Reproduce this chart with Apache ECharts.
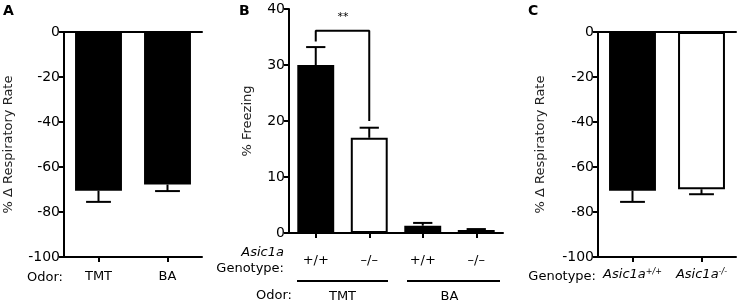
<!DOCTYPE html>
<html>
<head>
<meta charset="utf-8">
<script src="https://cdn.jsdelivr.net/npm/echarts@6/dist/echarts.min.js"></script>
<style>
  html, body { margin: 0; padding: 0; background: #fff; }
  #chart { width: 737px; height: 305px; }
</style>
</head>
<body>
<div id="chart"></div>
<script>
// panel A: respiratory rate by odor
const odorA = ['TMT', 'BA']
const meanA = [-70.5, -67.8]
const semA = [5.0, 2.9]

// panel B: freezing by genotype, grouped by odor
const genotypeB = ['+/+', '–/–', '+/+', '–/–']
const odorGroupsB = ['TMT', 'BA']
const meanB = [30.0, 17.0, 1.3, 0.55]
const semB = [3.2, 1.8, 0.5, 0.15]
const bracketB = [[0, 34.2], [0, 36.1], [1, 36.1], [1, 20.0]]

// panel C: respiratory rate by genotype
const genotypeC = ['+/+', '-/-']
const meanC = [-70.5, -69.9]
const semC = [5.0, 2.2]

const font = 'DejaVu Sans'
const black = '#000'

function fill(i, pattern) {
  return pattern[i] ? {color: black, borderColor: black, borderWidth: 0}
                    : {color: '#fff', borderColor: black, borderWidth: 2}
}

function barSeries(idx, means, pattern, width) {
  return {
    type: 'bar',
    xAxisIndex: idx,
    yAxisIndex: idx,
    barWidth: width,
    silent: true,
    data: means.map((m, i) => ({value: m, itemStyle: fill(i, pattern)}))
  }
}

function errorSeries(idx, means, sems) {
  return {
    type: 'custom',
    xAxisIndex: idx,
    yAxisIndex: idx,
    z: 5,
    silent: true,
    data: means.map((m, i) => [i, m, m < 0 ? m - sems[i] : m + sems[i]]),
    renderItem: function(params, api) {
      const i = api.value(0)
      const p0 = api.coord([i, api.value(1)])
      const p1 = api.coord([i, api.value(2)])
      const half = api.size([1, 0])[0] * 0.36 / 2
      const st = {stroke: black, lineWidth: 2}
      return {
        type: 'group',
        children: [
          {type: 'line', shape: {x1: p0[0], y1: p0[1], x2: p1[0], y2: p1[1]}, style: st},
          {type: 'line', shape: {x1: p1[0] - half, y1: p1[1], x2: p1[0] + half, y2: p1[1]}, style: st}
        ]
      }
    }
  }
}

const axisLine = {show: true, onZero: false, lineStyle: {color: black, width: 2}}
const axisTick = {show: true, length: 5, lineStyle: {color: black, width: 2}}
const tickLabel = {color: black, fontFamily: font, fontSize: 14}

function valueAxis(idx, min, max, interval, name, gap) {
  return {
    type: 'value',
    gridIndex: idx,
    min: min,
    max: max,
    interval: interval,
    name: name,
    nameLocation: 'middle',
    nameRotate: 90,
    nameGap: gap,
    nameTextStyle: {color: '#222', fontFamily: font, fontSize: 13},
    axisLine: axisLine,
    axisTick: axisTick,
    axisLabel: Object.assign({margin: 4}, tickLabel),
    splitLine: {show: false}
  }
}

function catAxis(idx, data, margin, extra) {
  return Object.assign({
    type: 'category',
    gridIndex: idx,
    data: data,
    position: 'bottom',
    axisLine: axisLine,
    axisTick: Object.assign({alignWithLabel: true}, axisTick),
    axisLabel: {color: black, fontFamily: font, fontSize: 13, margin: margin, interval: 0},
    splitLine: {show: false}
  }, extra || {})
}

const chart = echarts.init(document.getElementById('chart'))

const option = {
  animation: false,
  grid: [
    {left: 64, top: 32, width: 138, height: 225},
    {left: 289, top: 9, width: 214, height: 224},
    {left: 598, top: 32, width: 138, height: 225}
  ],
  xAxis: [
    catAxis(0, odorA, 13),
    catAxis(1, genotypeB, 21),
    catAxis(2, genotypeC, 11, {
      axisLabel: {
        interval: 0,
        margin: 11,
        color: black,
        formatter: v => '{i|Asic1a}{s|' + v + '}',
        rich: {
          i: {fontFamily: font, fontSize: 13, fontStyle: 'italic', color: black},
          s: {fontFamily: font, fontSize: 8, fontStyle: 'italic', color: black, verticalAlign: 'top', padding: [0, 0, 6, 0]}
        }
      }
    }),
    // zero lines on top of A and C
    catAxis(0, odorA, 0, {position: 'top', axisTick: {show: false}, axisLabel: {show: false}}),
    catAxis(2, genotypeC, 0, {position: 'top', axisTick: {show: false}, axisLabel: {show: false}}),
    // odor groups under B
    catAxis(1, odorGroupsB, 9, {offset: 48, axisLine: {show: false}, axisTick: {show: false}})
  ],
  yAxis: [
    valueAxis(0, -100, 0, 20, '% Δ Respiratory Rate', 49),
    valueAxis(1, 0, 40, 10, '% Freezing', 35),
    valueAxis(2, -100, 0, 20, '% Δ Respiratory Rate', 51)
  ],
  series: [
    barSeries(0, meanA, [1, 1], '68%'),
    errorSeries(0, meanA, semA),
    barSeries(1, meanB, [1, 0, 1, 0], '69%'),
    errorSeries(1, meanB, semB),
    {
      type: 'line',
      xAxisIndex: 1,
      yAxisIndex: 1,
      data: bracketB,
      showSymbol: false,
      silent: true,
      lineStyle: {color: black, width: 2},
      z: 6
    },
    barSeries(2, meanC, [1, 0], '68%'),
    errorSeries(2, meanC, semC)
  ],
  graphic: [
    {type: 'text', left: 3, top: 4, style: {text: 'A', font: 'bold 14px "DejaVu Sans"', fill: black}},
    {type: 'text', left: 239, top: 4, style: {text: 'B', font: 'bold 14px "DejaVu Sans"', fill: black}},
    {type: 'text', left: 528, top: 4, style: {text: 'C', font: 'bold 14px "DejaVu Sans"', fill: black}},
    {type: 'text', x: 27, y: 278, style: {text: 'Odor:', font: '13px "DejaVu Sans"', fill: black, verticalAlign: 'middle'}},
    {type: 'text', x: 343, y: 17, style: {text: '**', font: '11px "DejaVu Sans"', fill: black, align: 'center', verticalAlign: 'middle'}},
    {type: 'text', x: 284, y: 253, style: {text: 'Asic1a', font: 'italic 13px "DejaVu Sans"', fill: black, align: 'right', verticalAlign: 'middle'}},
    {type: 'text', x: 284, y: 269, style: {text: 'Genotype:', font: '13px "DejaVu Sans"', fill: black, align: 'right', verticalAlign: 'middle'}},
    {type: 'text', x: 292, y: 296, style: {text: 'Odor:', font: '13px "DejaVu Sans"', fill: black, align: 'right', verticalAlign: 'middle'}},
    {type: 'line', shape: {x1: 297, y1: 281, x2: 388, y2: 281}, style: {stroke: black, lineWidth: 2}},
    {type: 'line', shape: {x1: 407, y1: 281, x2: 500, y2: 281}, style: {stroke: black, lineWidth: 2}},
    {type: 'text', x: 596, y: 277, style: {text: 'Genotype:', font: '13px "DejaVu Sans"', fill: black, align: 'right', verticalAlign: 'middle'}}
  ]
}

chart.setOption(option)
</script>
</body>
</html>
